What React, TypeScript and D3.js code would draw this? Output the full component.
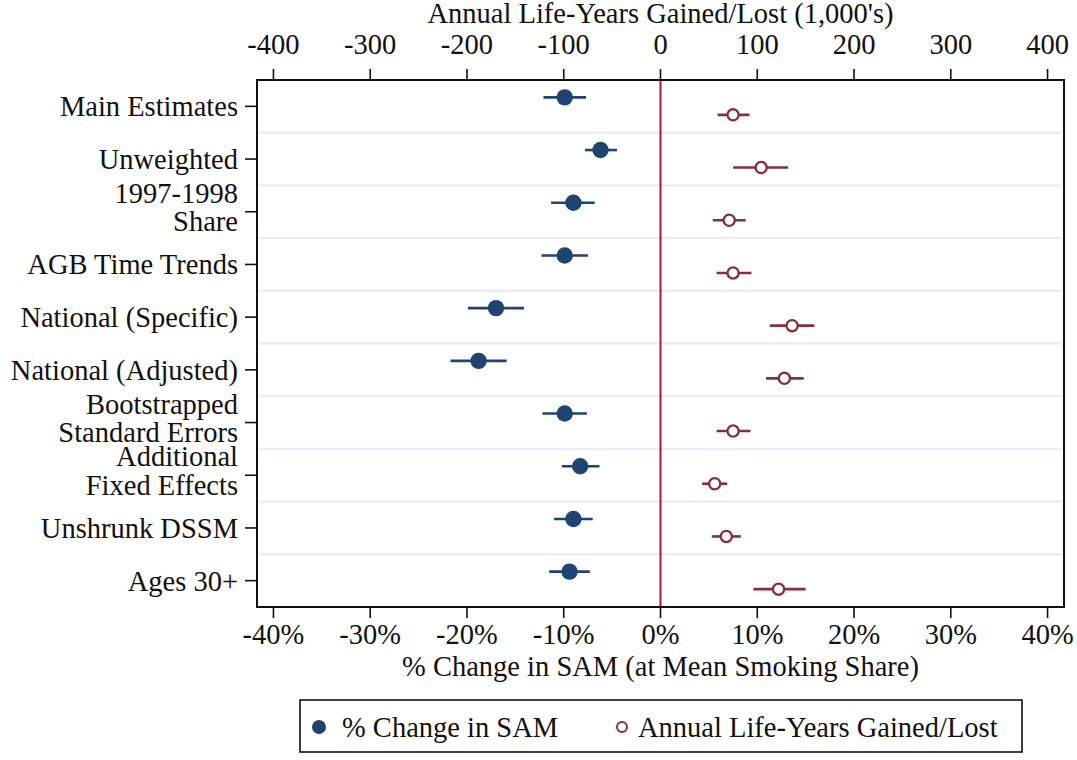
import React from "react";
import * as d3 from "d3";

const categories: string[][] = [
  ["Main Estimates"],
  ["Unweighted"],
  ["1997-1998", "Share"],
  ["AGB Time Trends"],
  ["National (Specific)"],
  ["National (Adjusted)"],
  ["Bootstrapped", "Standard Errors"],
  ["Additional", "Fixed Effects"],
  ["Unshrunk DSSM"],
  ["Ages 30+"],
];

// % Change in SAM (point, lower, upper)
const samPoint = [-9.9, -6.2, -9.0, -9.9, -17.0, -18.8, -9.9, -8.3, -9.0, -9.4];
const samLow = [-12.1, -7.8, -11.3, -12.3, -19.9, -21.7, -12.2, -10.2, -11.0, -11.5];
const samHigh = [-7.7, -4.5, -6.8, -7.5, -14.1, -15.9, -7.6, -6.3, -7.0, -7.3];

// Annual life-years gained/lost, 1,000's (point, lower, upper)
const lyPoint = [75, 104, 71, 75, 136, 128, 75, 56, 68, 122];
const lyLow = [59, 75, 54, 58, 113, 109, 58, 43, 53, 96];
const lyHigh = [92, 132, 88, 94, 159, 148, 93, 69, 83, 150];

const pctTicks = [-40, -30, -20, -10, 0, 10, 20, 30, 40];
const lyTicks = [-400, -300, -200, -100, 0, 100, 200, 300, 400];

const W = 1077;
const H = 760;
const left = 257;
const right = 1064;
const top = 80;
const bottom = 607;

const BLUE = "#1f4470";
const RED = "#84303b";
const ZERO = "#a8183a";
const FONT = "'Liberation Serif', 'Times New Roman', serif";
const FS = 28.5;

export default function App() {
  const xPct = d3.scaleLinear().domain([-41.7, 41.7]).range([left, right]);
  const xLy = d3.scaleLinear().domain([-417, 417]).range([left, right]);
  const band = d3
    .scaleBand<number>()
    .domain(d3.range(categories.length))
    .range([top, bottom]);
  const rowH = band.bandwidth();
  const center = (i: number) => (band(i) as number) + rowH / 2;

  return (
    <svg
      width={W}
      height={H}
      style={{ position: "absolute", left: 0, top: 0, background: "#fff" }}
      fontFamily={FONT}
    >
      <rect x={0} y={0} width={W} height={H} fill="#fff" />
      {/* grid lines between rows */}
      {d3.range(1, categories.length).map((i) => (
        <line
          key={"g" + i}
          x1={left + 2}
          x2={right - 2}
          y1={band(i) as number}
          y2={band(i) as number}
          stroke="#e9eef1"
          strokeWidth={2.5}
        />
      ))}
      {/* zero line */}
      <line x1={xPct(0)} x2={xPct(0)} y1={top} y2={bottom} stroke={ZERO} strokeWidth={2} />

      {/* SAM series */}
      {samPoint.map((v, i) => {
        const y = center(i) - 9;
        return (
          <g key={"s" + i}>
            <line x1={xPct(samLow[i])} x2={xPct(samHigh[i])} y1={y} y2={y} stroke={BLUE} strokeWidth={2.6} />
            <circle cx={xPct(v)} cy={y} r={8.2} fill={BLUE} />
          </g>
        );
      })}
      {/* Life-years series */}
      {lyPoint.map((v, i) => {
        const y = center(i) + 8.5;
        return (
          <g key={"l" + i}>
            <line x1={xLy(lyLow[i])} x2={xLy(lyHigh[i])} y1={y} y2={y} stroke={RED} strokeWidth={2.6} />
            <circle cx={xLy(v)} cy={y} r={5.6} fill="#fff" stroke={RED} strokeWidth={2.3} />
          </g>
        );
      })}

      {/* frame */}
      <rect x={left} y={top} width={right - left} height={bottom - top} fill="none" stroke="#111" strokeWidth={2} />

      {/* bottom axis */}
      {pctTicks.map((t) => (
        <g key={"bt" + t}>
          <line x1={xPct(t)} x2={xPct(t)} y1={bottom} y2={bottom + 11} stroke="#111" strokeWidth={1.6} />
          <text x={xPct(t)} y={bottom + 37} textAnchor="middle" fontSize={FS} fill="#111">
            {t + "%"}
          </text>
        </g>
      ))}
      <text x={(left + right) / 2} y={676} textAnchor="middle" fontSize={FS} fill="#111">
        % Change in SAM (at Mean Smoking Share)
      </text>

      {/* top axis */}
      {lyTicks.map((t) => (
        <g key={"tt" + t}>
          <line x1={xLy(t)} x2={xLy(t)} y1={top} y2={top - 11} stroke="#111" strokeWidth={1.6} />
          <text x={xLy(t)} y={top - 26} textAnchor="middle" fontSize={FS} fill="#111">
            {String(t)}
          </text>
        </g>
      ))}
      <text x={(left + right) / 2} y={23} textAnchor="middle" fontSize={FS} fill="#111">
        Annual Life-Years Gained/Lost (1,000's)
      </text>

      {/* left axis */}
      {categories.map((lines, i) => {
        const c = center(i);
        return (
          <g key={"y" + i}>
            <line x1={left - 12} x2={left} y1={c} y2={c} stroke="#111" strokeWidth={1.6} />
            {lines.length === 1 ? (
              <text x={238} y={c + 10} textAnchor="end" fontSize={FS} fill="#111">
                {lines[0]}
              </text>
            ) : (
              lines.map((l, k) => (
                <text key={k} x={238} y={c - 9 + k * 28.5} textAnchor="end" fontSize={FS} fill="#111">
                  {l}
                </text>
              ))
            )}
          </g>
        );
      })}

      {/* legend */}
      <rect x={300} y={700} width={722} height={52} fill="#fff" stroke="#111" strokeWidth={1.6} />
      <circle cx={319} cy={727} r={7} fill={BLUE} />
      <text x={342} y={737} fontSize={FS} fill="#111">
        % Change in SAM
      </text>
      <circle cx={622} cy={727} r={5} fill="#fff" stroke={RED} strokeWidth={2} />
      <text x={638} y={737} fontSize={FS} fill="#111">
        Annual Life-Years Gained/Lost
      </text>
    </svg>
  );
}
